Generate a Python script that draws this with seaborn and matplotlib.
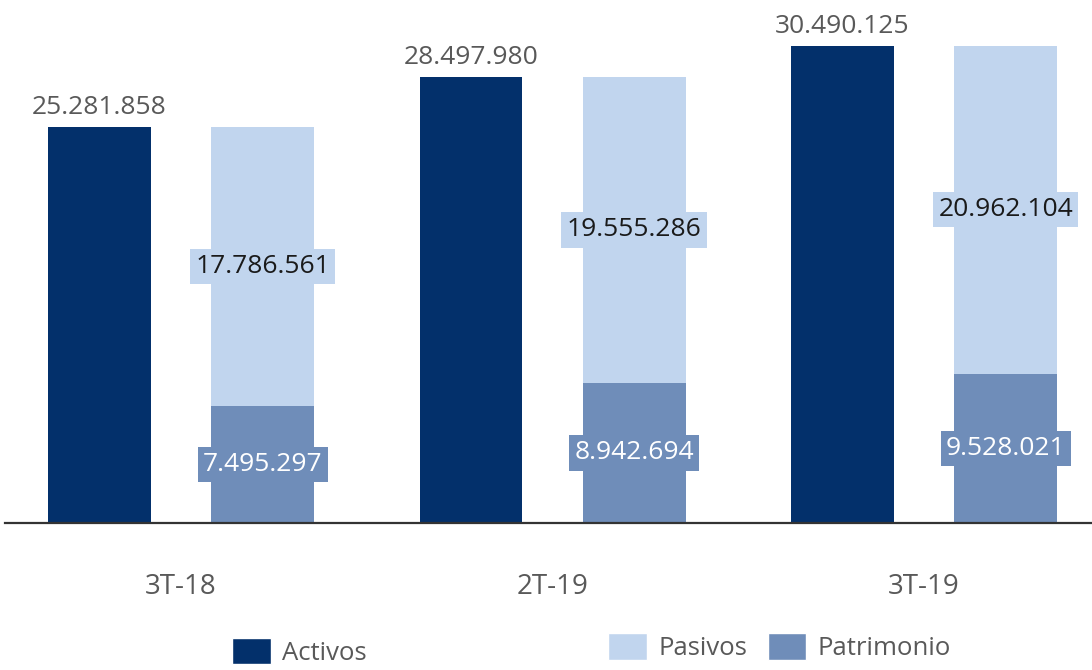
import pandas as pd
import matplotlib.pyplot as plt
import seaborn as sns

# Balance figures (miles)
periodos = ["3T-18", "2T-19", "3T-19"]
activos = [25281858, 28497980, 30490125]
pasivos = [17786561, 19555286, 20962104]
patrimonio = [7495297, 8942694, 9528021]

c_activos = "#03306B"
c_pasivos = "#C1D5EE"
c_patrimonio = "#6F8DB9"
gris = "#595959"

def fmt(v):
    return f"{v:,}".replace(",", ".")

sns.set_style("white")
plt.rcParams["font.family"] = ["Open Sans", "DejaVu Sans"]

series = ["Activos", "Balance"]
df_tot = pd.DataFrame({
    "periodo": periodos * 2,
    "serie": ["Activos"] * 3 + ["Balance"] * 3,
    "valor": activos + [p + q for p, q in zip(pasivos, patrimonio)],
})
# zero-height placeholders for Activos so the dodge positions line up
df_pat = pd.DataFrame({
    "periodo": periodos * 2,
    "serie": ["Activos"] * 3 + ["Balance"] * 3,
    "valor": [0, 0, 0] + patrimonio,
})

fig = plt.figure(figsize=(10.92, 6.70), dpi=100)
ax = fig.add_axes([0.0046, 0.2194, 0.9954, 0.7806])

bar_kw = dict(x="periodo", y="valor", hue="serie", hue_order=series, width=0.878,
              gap=0.37, saturation=1, legend=False, ax=ax, errorbar=None, linewidth=0)
sns.barplot(data=df_tot, palette=[c_activos, c_pasivos], **bar_kw)
sns.barplot(data=df_pat, palette=[c_activos, c_patrimonio], **bar_kw)

act_bars = ax.containers[0]
tot_bars = ax.containers[1]
pat_bars = ax.containers[-1]

# Activos labels above the bars
ax.bar_label(act_bars, labels=[fmt(v) for v in activos], padding=5,
             fontsize=19, color=gris)

# Patrimonio labels, centred in the bottom segment
ax.bar_label(pat_bars, labels=[fmt(v) for v in patrimonio], label_type="center",
             fontsize=19, color="white",
             bbox=dict(boxstyle="square,pad=0.2", fc=c_patrimonio, ec="none"))

# Pasivos labels, centred in the top segment
for bar, pas, pat in zip(tot_bars, pasivos, patrimonio):
    xc = bar.get_x() + bar.get_width() / 2
    ax.text(xc, pat + pas / 2, fmt(pas), ha="center", va="center",
            fontsize=19, color="#1a1a1a",
            bbox=dict(boxstyle="square,pad=0.2", fc=c_pasivos, ec="none"))

ax.set_xlim(-0.474, 2.452)
ax.set_ylim(0, 33.4e6)
ax.set_xlabel("")
ax.set_ylabel("")
ax.set_yticks([])
ax.tick_params(axis="x", length=0, pad=36, labelsize=20, labelcolor=gris)
for s in ["top", "right", "left"]:
    ax.spines[s].set_visible(False)
ax.spines["bottom"].set_color("#333333")
ax.spines["bottom"].set_linewidth(1.6)

# Two separate legends, as in the original layout
h_act = [plt.Rectangle((0, 0), 1, 1, fc=c_activos)]
h_bal = [plt.Rectangle((0, 0), 1, 1, fc=c_pasivos), plt.Rectangle((0, 0), 1, 1, fc=c_patrimonio)]
leg_kw = dict(frameon=False, fontsize=18.5, handlelength=1.5, handleheight=1.2,
              handletextpad=0.45, borderpad=0, borderaxespad=0, labelcolor=gris)
fig.legend(h_act, ["Activos"], loc="center left", bbox_to_anchor=(0.2125, 0.027), **leg_kw)
fig.legend(h_bal, ["Pasivos", "Patrimonio"], loc="center left", ncol=2,
           columnspacing=0.8, bbox_to_anchor=(0.5568, 0.034), **leg_kw)

fig.savefig("out.png", dpi=100)
